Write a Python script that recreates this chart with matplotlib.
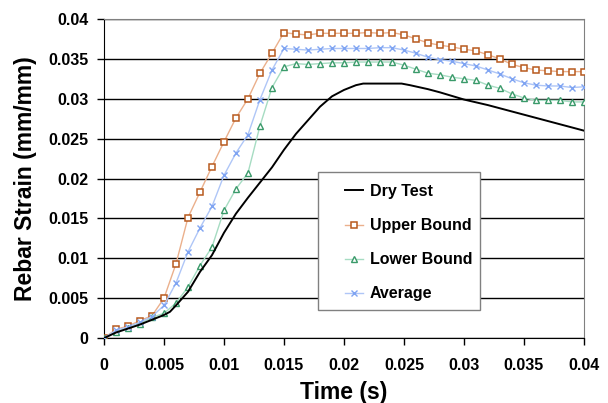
import numpy as np
import matplotlib.pyplot as plt
from matplotlib.patches import Rectangle

plt.rcParams['font.family'] = ['Liberation Sans', 'DejaVu Sans']
plt.rcParams['font.weight'] = 'bold'

# time in ms for the bound / average series (one point per 0.001 s)
t_ms = list(range(0, 41))

upper = [0, 0.0011, 0.0015, 0.0022, 0.0028, 0.0050, 0.0093, 0.0151, 0.0183, 0.0215,
         0.0246, 0.0276, 0.0300, 0.0332, 0.0357, 0.0383, 0.0381, 0.0380, 0.0382, 0.0382,
         0.0382, 0.0382, 0.0383, 0.0382, 0.0383, 0.0380, 0.0375, 0.0370, 0.0367, 0.0365,
         0.0362, 0.0360, 0.0355, 0.0350, 0.0343, 0.0339, 0.0336, 0.0335, 0.0334, 0.0334,
         0.0334]

lower = [0, 0.0008, 0.0013, 0.0018, 0.0026, 0.0031, 0.0044, 0.0064, 0.0091, 0.0114,
         0.0160, 0.0187, 0.0207, 0.0266, 0.0314, 0.0340, 0.0344, 0.0343, 0.0344, 0.0345,
         0.0345, 0.0346, 0.0346, 0.0346, 0.0346, 0.0342, 0.0337, 0.0332, 0.0330, 0.0327,
         0.0325, 0.0323, 0.0317, 0.0313, 0.0306, 0.0301, 0.0298, 0.0298, 0.0298, 0.0296,
         0.0296]

average = [0, 0.0010, 0.0014, 0.0020, 0.0027, 0.0041, 0.0069, 0.0108, 0.0138, 0.0165,
           0.0204, 0.0232, 0.0255, 0.0299, 0.0336, 0.0363, 0.0362, 0.0361, 0.0362, 0.0363,
           0.0363, 0.0363, 0.0363, 0.0364, 0.0364, 0.0361, 0.0357, 0.0352, 0.0349, 0.0347,
           0.0344, 0.0341, 0.0336, 0.0331, 0.0325, 0.0320, 0.0317, 0.0316, 0.0316, 0.0314,
           0.0315]

# dry test curve
dry_t_ms = [0, 1, 2, 3, 4, 5, 5.5, 6, 7, 8, 9, 10, 11, 12, 13, 14, 15, 16, 17, 18, 19,
            20, 21, 21.6, 23, 24.8, 25.5, 27, 28, 30, 32, 34, 36, 38, 40]
dry = [0, 0.0007, 0.0012, 0.0017, 0.0023, 0.0029, 0.0033, 0.0041, 0.0058, 0.0083,
       0.0104, 0.0132, 0.0156, 0.0176, 0.0195, 0.0214, 0.0236, 0.0256, 0.0273, 0.0290,
       0.0303, 0.0311, 0.0317, 0.0319, 0.0319, 0.0319, 0.0317, 0.0312, 0.0308, 0.0299,
       0.0292, 0.0284, 0.0276, 0.0268, 0.0260]

t = np.array(t_ms) / 1000.0
dry_t = np.array(dry_t_ms) / 1000.0

fig = plt.figure(figsize=(6.08, 4.03), dpi=100)
ax = fig.add_axes([0.171, 0.161, 0.7895, 0.792])

ax.plot(dry_t, dry, color='black', lw=1.4, label='Dry Test', zorder=5)
ax.plot(t, upper, color='#EBB08C', lw=1, marker='s', ms=4.2, mec='#B85A1E',
        mfc='white', mew=1.1, label='Upper Bound', zorder=4)
ax.plot(t, lower, color='#A6DCC2', lw=1, marker='^', ms=4.5, mec='#3A9A6A',
        mfc='white', mew=1.0, label='Lower Bound', zorder=4)
ax.plot(t, average, color='#AFC6F7', lw=1, marker='x', ms=5, mec='#7FA4F2',
        mew=1.0, label='Average', zorder=4)

ax.set_xlim(0, 0.04)
ax.set_ylim(0, 0.04)
xt = [0, 0.005, 0.01, 0.015, 0.02, 0.025, 0.03, 0.035, 0.04]
xt_labels = ['0', '0.005', '0.01', '0.015', '0.02', '0.025', '0.03', '0.035', '0.04']
ax.set_xticks(xt)
ax.set_xticklabels(xt_labels)
ax.set_yticks(xt)
ax.set_yticklabels(xt_labels)
ax.tick_params(axis='both', direction='out', length=5, width=1, labelsize=11.5, pad=6)
ax.tick_params(axis='x', pad=9)

ax.yaxis.grid(True, color='black', lw=1)
ax.set_axisbelow(True)
for s in ['top', 'right']:
    ax.spines[s].set_color('#808080')
for s in ['left', 'bottom']:
    ax.spines[s].set_color('black')

ax.set_xlabel('Time (s)', fontsize=16.5, fontweight='bold', labelpad=6)
ax.set_ylabel('Rebar Strain (mm/mm)', fontsize=16.5, fontweight='bold', labelpad=8)

# legend box (white with grey border) drawn separately, legend entries on top
box = Rectangle((0.446, 0.088), 0.337, 0.432, transform=ax.transAxes,
                facecolor='white', edgecolor='#808080', lw=1, zorder=6)
ax.add_patch(box)
leg = ax.legend(loc='upper left', bbox_to_anchor=(0.502, 0.483), borderaxespad=0,
                fontsize=11.5, frameon=False, numpoints=1, handlelength=1.15,
                borderpad=0, labelspacing=1.2, handletextpad=0.4)
leg.set_zorder(7)

fig.savefig('out.png', dpi=100)
